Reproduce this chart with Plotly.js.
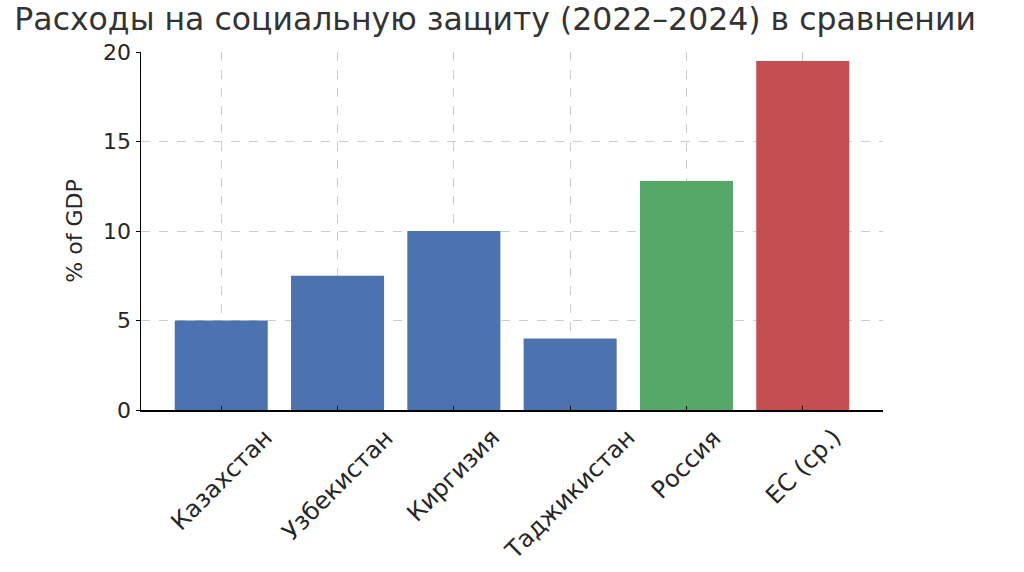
<!DOCTYPE html>
<html>
<head>
<meta charset="utf-8">
<script src="https://cdn.plot.ly/plotly-3.0.1.min.js"></script>
<style>html,body{margin:0;padding:0;background:#fff;}#chart{width:1024px;height:572px;}</style>
</head>
<body>
<div id="chart"></div>
<script>
const categories = ["Казахстан", "Узбекистан", "Киргизия", "Таджикистан", "Россия", "ЕС (ср.)"];
const values = [5, 7.5, 10, 4, 12.8, 19.5];
const barColors = ["#4C72B0", "#4C72B0", "#4C72B0", "#4C72B0", "#55A868", "#C44E52"];
const yTicks = [0, 5, 10, 15, 20];

const font = "DejaVu Sans, sans-serif";

const trace = {
  type: "bar",
  x: categories,
  y: values,
  width: 0.8,
  marker: {color: barColors, line: {width: 0}},
  hoverinfo: "x+y"
};

// Rotated category labels centred on their ticks (as in the reference)
const labelAnnotations = categories.map(c => ({
  text: c,
  x: c, xref: "x",
  y: 0, yref: "paper",
  xanchor: "center", yanchor: "top",
  yshift: -12,
  textangle: -45,
  showarrow: false,
  borderpad: 0,
  font: {family: font, size: 24, color: "#262626"}
}));

const layout = {
  width: 1024,
  height: 572,
  margin: {l: 141, r: 141, t: 52, b: 162},
  paper_bgcolor: "#ffffff",
  plot_bgcolor: "#ffffff",
  showlegend: false,
  font: {family: font, color: "#262626"},
  title: {
    text: "Расходы на социальную защиту (2022–2024) в сравнении",
    font: {family: font, size: 31.5, color: "#333333"},
    x: 0.014, xanchor: "left", xref: "container",
    y: 0.966, yanchor: "middle", yref: "container"
  },
  annotations: labelAnnotations,
  xaxis: {
    type: "category",
    range: [-0.69, 5.69],
    showticklabels: false,
    showgrid: true,
    gridcolor: "#cccccc",
    griddash: "dash",
    gridwidth: 1,
    showline: true,
    linecolor: "#000000",
    linewidth: 2,
    ticks: "inside",
    ticklen: 4,
    tickcolor: "#000000",
    zeroline: false,
    fixedrange: true
  },
  yaxis: {
    range: [0, 20],
    tickvals: yTicks,
    ticktext: yTicks.map(String),
    tickfont: {family: font, size: 22, color: "#262626"},
    title: {text: "% of GDP", font: {family: font, size: 22, color: "#262626"}, standoff: 14},
    showgrid: true,
    gridcolor: "#cccccc",
    griddash: "dash",
    gridwidth: 1,
    showline: true,
    linecolor: "#000000",
    linewidth: 1.5,
    ticks: "outside",
    ticklen: 4,
    tickcolor: "#000000",
    zeroline: false,
    fixedrange: true
  }
};

Plotly.newPlot("chart", [trace], layout, {displayModeBar: false, staticPlot: true});
</script>
</body>
</html>
